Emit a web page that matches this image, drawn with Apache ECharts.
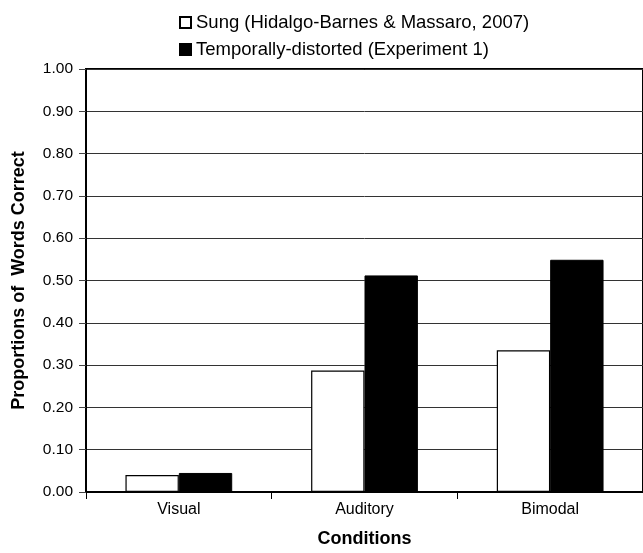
<!DOCTYPE html>
<html>
<head>
<meta charset="utf-8">
<script src="https://cdn.jsdelivr.net/npm/echarts@6/dist/echarts.min.js"></script>
<style>html,body{margin:0;padding:0;background:#fff;}#c{width:643px;height:553px;}</style>
</head>
<body>
<div id="c"></div>
<script>
var categories = ['Visual', 'Auditory', 'Bimodal'];
var sungValues = [0.040, 0.287, 0.335];
var distortedValues = [0.045, 0.512, 0.549];
var seriesNames = ['Sung (Hidalgo-Barnes & Massaro, 2007)', 'Temporally-distorted (Experiment 1)'];
var yTickInterval = 0.1;

var FONT = 'Liberation Sans, Arial, sans-serif';
var chart = echarts.init(document.getElementById('c'), null, {renderer: 'canvas'});
chart.setOption({
  animation: false,
  backgroundColor: '#fff',
  textStyle: {fontFamily: FONT, color: '#000'},
  legend: {
    orient: 'vertical',
    left: 174,
    top: 8,
    itemWidth: 11,
    itemHeight: 11,
    itemGap: 8,
    icon: 'rect',
    textStyle: {fontFamily: FONT, fontSize: 18.5, color: '#000', lineHeight: 18},
    data: seriesNames
  },
  grid: {left: 86, top: 69, right: -2, bottom: 58, show: true, borderColor: '#000', borderWidth: 2, backgroundColor: 'transparent'},
  xAxis: {
    type: 'category',
    data: categories,
    name: 'Conditions',
    nameLocation: 'middle',
    nameGap: 38,
    nameTextStyle: {fontFamily: FONT, fontSize: 18, fontWeight: 'bold', color: '#000'},
    axisLine: {lineStyle: {color: '#000', width: 2}},
    axisTick: {show: true, length: 7, lineStyle: {color: '#000', width: 1}},
    axisLabel: {fontFamily: FONT, fontSize: 16, color: '#000', margin: 10}
  },
  yAxis: {
    type: 'value',
    min: 0,
    max: 1,
    interval: yTickInterval,
    name: 'Proportions of  Words Correct',
    nameLocation: 'middle',
    nameGap: 58,
    nameTextStyle: {fontFamily: FONT, fontSize: 18, fontWeight: 'bold', color: '#000'},
    axisLine: {show: true, lineStyle: {color: '#000', width: 2}},
    axisTick: {show: true, length: 7, lineStyle: {color: '#444', width: 1}},
    axisLabel: {fontFamily: FONT, fontSize: 15.5, color: '#000', margin: 13, formatter: function (v) { return v.toFixed(2); }},
    splitLine: {show: true, lineStyle: {color: '#333', width: 1}}
  },
  series: [
    {
      name: seriesNames[0],
      type: 'bar',
      data: sungValues,
      barGap: '0%',
      barCategoryGap: '42.5%',
      itemStyle: {color: '#fff', borderColor: '#000', borderWidth: 1.2}
    },
    {
      name: seriesNames[1],
      type: 'bar',
      data: distortedValues,
      barGap: '0%',
      barCategoryGap: '42.5%',
      itemStyle: {color: '#000', borderColor: '#000', borderWidth: 1}
    }
  ]
});
</script>
</body>
</html>
